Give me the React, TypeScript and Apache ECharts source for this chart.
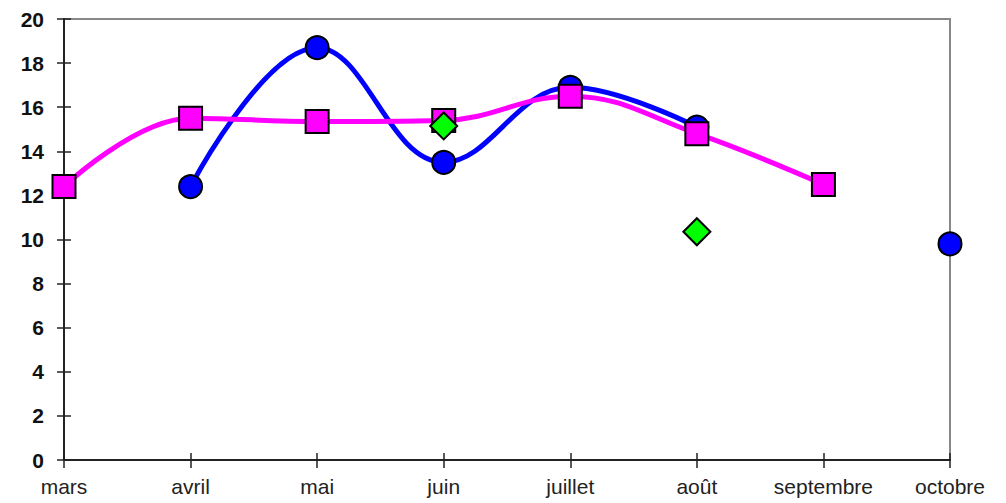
import React, { useEffect, useRef } from "react";
import * as echarts from "echarts";

const months = ["mars", "avril", "mai", "juin", "juillet", "août", "septembre", "octobre"];
const blueValues = [null, 12.4, 18.7, 13.5, 16.9, 15.1, null, 9.8];
const magentaValues = [12.4, 15.5, 15.35, 15.4, 16.5, 14.8, 12.5, null];
const greenValues = [null, null, null, 15.15, null, 10.35, null, null];
const yTicks = { min: 0, max: 20, interval: 2 };

export default function App() {
  const ref = useRef<HTMLDivElement>(null);
  useEffect(() => {
    const chart = echarts.init(ref.current!, undefined, { renderer: "svg" });
    const font = "'Liberation Sans', Arial, sans-serif";
    chart.setOption({
      animation: false,
      backgroundColor: "#fff",
      grid: {
        left: 64, top: 19, right: 56, bottom: 43,
        show: true, borderColor: "#888", borderWidth: 2, backgroundColor: "transparent",
      },
      xAxis: [
        {
          type: "category", data: months, boundaryGap: false,
          axisLine: { lineStyle: { color: "#222", width: 2 } },
          axisTick: { show: true, interval: 0, length: 8, lineStyle: { color: "#222", width: 1.5 } },
          axisLabel: { interval: 0, hideOverlap: false, color: "#222", fontSize: 21, fontFamily: font, margin: 16 },
          splitLine: { show: false },
        },
        {
          type: "category", data: months, boundaryGap: false, position: "bottom",
          axisLine: { show: false },
          axisTick: { show: true, interval: 0, inside: true, length: 7, lineStyle: { color: "#222", width: 1.5 } },
          axisLabel: { show: false },
          splitLine: { show: false },
        },
      ],
      yAxis: [
        {
          type: "value", ...yTicks,
          axisLine: { show: true, lineStyle: { color: "#222", width: 2 } },
          axisTick: { show: true, length: 7, lineStyle: { color: "#222", width: 1.5 } },
          axisLabel: { color: "#111", fontSize: 21, fontWeight: "bold", fontFamily: font, margin: 20 },
          splitLine: { show: false },
        },
        {
          type: "value", ...yTicks, position: "left",
          axisLine: { show: false },
          axisTick: { show: true, inside: true, length: 7, lineStyle: { color: "#222", width: 1.5 } },
          axisLabel: { show: false },
          splitLine: { show: false },
        },
      ],
      series: [
        {
          type: "line", data: blueValues, smooth: 0.4, connectNulls: false, clip: false,
          lineStyle: { color: "#0000ff", width: 5 },
          symbol: "circle", symbolSize: 23,
          itemStyle: { color: "#0000ff", borderColor: "#000", borderWidth: 2 },
          z: 2,
        },
        {
          type: "line", data: magentaValues, smooth: 0.4, connectNulls: false, clip: false,
          lineStyle: { color: "#ff00ff", width: 5 },
          symbol: "rect", symbolSize: 23,
          itemStyle: { color: "#ff00ff", borderColor: "#000", borderWidth: 2 },
          z: 3,
        },
        {
          type: "line", data: greenValues, clip: false,
          lineStyle: { width: 0, opacity: 0 },
          symbol: "diamond", symbolSize: [27, 27],
          showAllSymbol: true,
          itemStyle: { color: "#00ff00", borderColor: "#000", borderWidth: 2 },
          z: 4,
        },
      ],
    });
    return () => chart.dispose();
  }, []);
  return (
    <div
      ref={ref}
      style={{ position: "fixed", left: 0, top: 0, width: 1006, height: 503 }}
    />
  );
}
